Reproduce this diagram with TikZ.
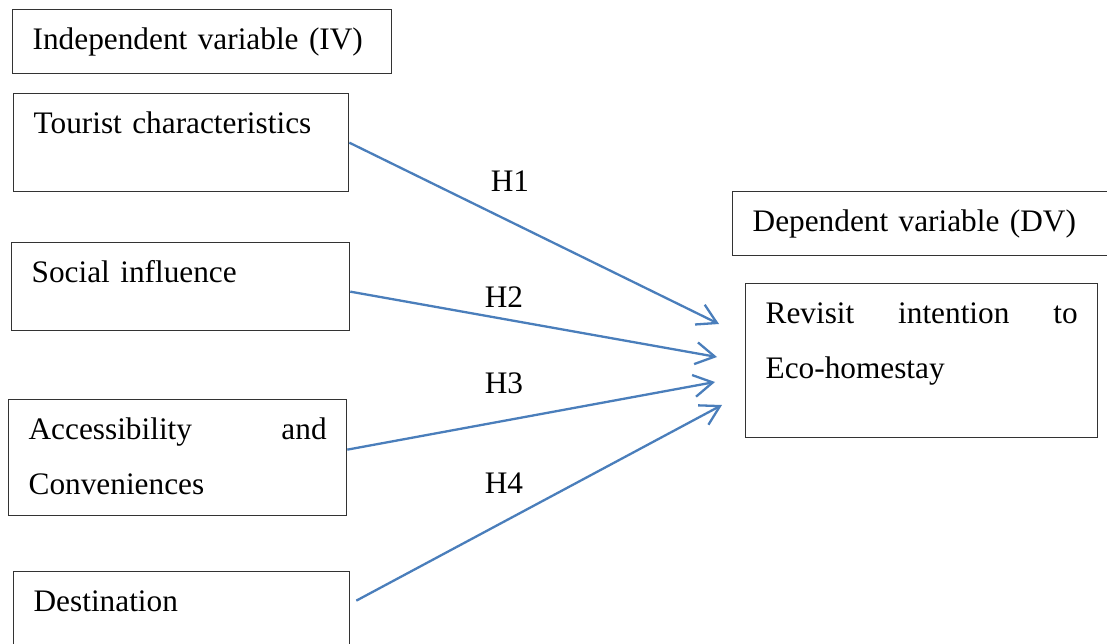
\documentclass[tikz,border=0pt]{standalone}
\usepackage{fontspec}
\setmainfont{Liberation Serif}
\usetikzlibrary{arrows.meta}

\definecolor{arrowblue}{RGB}{74,126,187}

\begin{document}
\begin{tikzpicture}[x=1pt,y=-1pt,
    font=\fontsize{31.3}{55}\selectfont,
    varbox/.style={draw=black!80, line width=1.3pt, anchor=north west,
        inner xsep=20pt, inner ysep=18pt, text height=22pt, align=left},
    hyp/.style={draw=arrowblue, line width=2.3pt,
        -{Straight Barb[length=19pt,width=22pt]}},
    hlabel/.style={anchor=base, inner sep=0pt}]
    \useasboundingbox (0,0) rectangle (1107,644);
    % independent side
    \node [varbox, text width=339pt, text depth=6pt] (iv) at (12,9) {Independent variable (IV)};
    \node [varbox, text width=295pt, text depth=40pt] (tc) at (13,93) {Tourist characteristics};
    \node [varbox, text width=298pt, text depth=30pt] (si) at (11,242) {Social influence};
    \node [varbox, text width=298pt, text depth=58pt] (ac) at (8,399) {Accessibility\hfill and\\Conveniences};
    \node [varbox, text width=296pt, text depth=42pt] (dest) at (13,571) {Destination};
    % dependent side
    \node [varbox, text width=350pt, text depth=6pt] (dv) at (732,191) {Dependent variable (DV)};
    \node [varbox, text width=312pt, text depth=96pt] (rv) at (745,283) {Revisit\hfill intention\hfill to\\Eco-homestay};
    % arrow ends
    \coordinate (e1) at (719,324);
    \coordinate (e2) at (717,357);
    \coordinate (e3) at (715,382);
    \coordinate (e4) at (722,405);
    \draw [hyp] (tc.east) -- (e1);
    \draw [hyp] ([yshift=-5pt]si.east) -- (e2);
    \draw [hyp] ([yshift=8pt]ac.east) -- (e3);
    \draw [hyp] ([shift={(6pt,21pt)}]dest.east) -- (e4);
    \node [hlabel] (h1) at (510,192) {H1};
    \node [hlabel] (h2) at (504,307) {H2};
    \node [hlabel] (h3) at (504,393) {H3};
    \node [hlabel] (h4) at (504,493) {H4};
\end{tikzpicture}
\end{document}
